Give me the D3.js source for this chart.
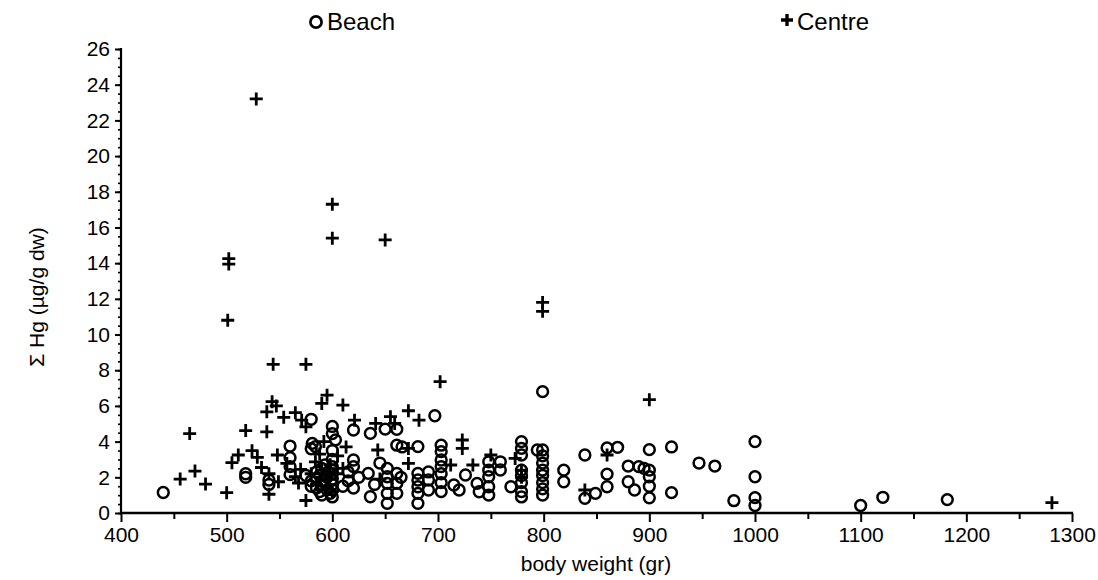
<!DOCTYPE html>
<html>
<head>
<meta charset="utf-8">
<script src="https://cdn.jsdelivr.net/npm/d3@7"></script>
<style>
  body { margin: 0; background: #fff; }
  text { font-family: "Liberation Sans", Arial, sans-serif; fill: #000; }
</style>
</head>
<body>
<svg id="chart" width="1098" height="580"></svg>
<script>

// body weight (gr), sum Hg (ug/g dw)
var beach = [
  [440,1.15],[518,2.0],[518,2.2],[540,1.85],[540,1.6],
  [560,3.75],[560,3.1],[560,2.6],[560,2.15],[580,5.25],
  [581,3.9],[584,3.72],[580,3.6],[575,2.1],[580,1.8],[580,1.5],[585,2.3],[585,1.9],
  [590,1.6],[590,2.5],[595,1.3],[595,2.0],[590,1.0],
  [585,1.4],[588,2.1],[592,1.8],[596,2.3],[598,1.1],[593,2.7],[588,1.2],
  [600,4.85],[600,4.45],[603,4.1],[600,3.5],[600,3.0],[600,2.6],[600,2.2],[600,1.9],
  [600,1.6],[600,1.3],[600,0.9],[600,2.4],
  [610,1.5],[615,2.3],[615,1.8],[620,4.65],[620,2.97],[620,2.6],[620,1.4],[625,2.0],
  [636,4.46],[634,2.22],[636,0.91],[640,1.6],[645,2.8],
  [652,2.5],[652,2.03],[652,1.66],[652,1.1],[652,0.54],[650,4.7],
  [661,4.69],[661,3.8],[666,3.7],[661,2.22],[661,1.66],[661,1.1],[665,2.0],
  [681,3.72],[681,2.22],[681,1.85],[681,1.47],[681,1.1],[681,0.54],
  [691,2.3],[691,1.85],[691,1.29],[697,5.45],
  [703,3.8],[703,3.44],[703,2.97],[703,2.6],[703,2.2],[703,1.7],[703,1.2],
  [715,1.57],[720,1.29],[726,2.13],[737,1.66],[739,1.19],
  [748,2.87],[748,2.4],[748,2.03],[748,1.47],[748,1.0],
  [759,2.87],[759,2.41],[769,1.47],
  [779,4.0],[779,3.62],[779,3.25],[779,2.4],[779,2.1],[779,1.7],[779,1.2],[779,0.9],
  [794,3.53],[799,6.8],[799,3.53],[799,3.2],[799,2.8],[799,2.4],[799,2.1],[799,1.7],
  [799,1.35],[799,1.0],
  [819,2.4],[819,1.75],[839,3.25],[839,0.82],[849,1.1],
  [860,3.65],[860,2.18],[860,1.47],[870,3.68],
  [880,2.63],[880,1.75],[886,1.29],[890,2.6],[895,2.5],
  [900,3.55],[900,2.4],[900,2.03],[900,1.5],[900,0.85],
  [921,3.7],[921,1.14],[947,2.8],[962,2.63],[980,0.69],
  [1000,4.0],[1000,2.03],[1000,0.86],[1000,0.42],
  [1100,0.42],[1121,0.88],[1182,0.75]
];

var centre = [
  [456,1.9],[465,4.45],[470,2.35],[480,1.62],[500,1.14],
  [501,10.8],[502,14.25],[502,13.95],
  [505,2.82],[511,3.25],[518,4.62],[524,3.49],[529,3.12],[533,2.55],[528,23.2],
  [538,4.55],[538,5.67],[540,1.05],[540,2.2],[543,6.24],[547,6.0],[544,8.33],
  [548,3.25],[549,1.75],[554,5.36],[557,2.78],[565,5.62],[565,2.03],[570,2.45],
  [568,1.68],[571,5.2],[575,4.83],[575,0.7],[575,8.33],
  [580,2.2],[585,1.6],[590,2.4],[597,1.9],[600,1.2],[603,2.2],
  [584,2.87],[588,3.3],[590,6.14],[595,6.6],[592,4.0],[595,1.5],[598,2.7],
  [600,17.3],[600,15.4],[610,6.05],[613,3.7],[610,2.5],[605,3.2],
  [621,5.2],[641,5.02],[643,3.53],[645,1.9],
  [650,15.3],[655,5.4],[659,5.02],
  [672,5.73],[672,3.62],[672,2.78],[682,5.2],[702,7.36],
  [712,2.69],[723,4.09],[723,3.62],[733,2.69],[750,3.25],[773,3.06],[779,2.4],[779,2.0],
  [799,11.8],[799,11.3],
  [839,1.29],[860,3.25],[900,6.35],[1281,0.58]
];

var x_ticks = [400,500,600,700,800,900,1000,1100,1200,1300];
var y_ticks = [0,2,4,6,8,10,12,14,16,18,20,22,24,26];

var svg = d3.select("#chart");

var x = d3.scaleLinear().domain([400, 1300]).range([121, 1072]);
var y = d3.scaleLinear().domain([0, 26]).range([513, 49]);

// x axis: major ticks every 100, minor every 50, pointing down
var xminor = svg.append("g").attr("transform", "translate(0," + y(0) + ")")
  .call(d3.axisBottom(x).tickValues(d3.range(450, 1300, 100)).tickSize(6).tickFormat(""));
xminor.select(".domain").remove();
xminor.selectAll("line").attr("stroke-width", 2);

var xmajor = svg.append("g").attr("transform", "translate(0," + y(0) + ")")
  .call(d3.axisBottom(x).tickValues(x_ticks).tickSize(9).tickPadding(5).tickFormat(d3.format("d")));
xmajor.select(".domain").remove();
xmajor.selectAll("line").attr("stroke-width", 2);
xmajor.selectAll("text").style("font-size", "21px");

svg.append("line")
  .attr("x1", x(400) - 1).attr("x2", x(1300) + 1)
  .attr("y1", y(0)).attr("y2", y(0))
  .attr("stroke", "#000").attr("stroke-width", 2.6);

// y axis: major every 2, minor every 0.5
var yminor = svg.append("g").attr("transform", "translate(" + x(400) + ",0)")
  .call(d3.axisLeft(y).tickValues(d3.range(0, 26.01, 0.5)).tickSize(3).tickFormat(""));
yminor.select(".domain").remove();
yminor.selectAll("line").attr("stroke-width", 1.6);

var ymajor = svg.append("g").attr("transform", "translate(" + x(400) + ",0)")
  .call(d3.axisLeft(y).tickValues(y_ticks).tickSize(6).tickPadding(5));
ymajor.select(".domain").remove();
ymajor.selectAll("line").attr("stroke-width", 2);
ymajor.selectAll("text").style("font-size", "21px");

svg.append("line")
  .attr("x1", x(400)).attr("x2", x(400))
  .attr("y1", y(26) - 1).attr("y2", y(0) + 1)
  .attr("stroke", "#000").attr("stroke-width", 2.2);

// axis titles
svg.append("text")
  .attr("x", 596).attr("y", 571)
  .attr("text-anchor", "middle")
  .style("font-size", "21px")
  .text("body weight (gr)");

svg.append("text")
  .attr("transform", "translate(44,297) rotate(-90)")
  .attr("text-anchor", "middle")
  .style("font-size", "21px")
  .text("\u03A3 Hg  (\u00B5g/g dw)");

// marks
var plus = function(d) {
  var cx = x(d[0]), cy = y(d[1]), a = 6.5;
  return "M" + (cx - a) + "," + cy + "H" + (cx + a) + "M" + cx + "," + (cy - a) + "V" + (cy + a);
};

svg.append("g").selectAll("circle")
  .data(beach)
  .enter().append("circle")
  .attr("cx", function(d) { return x(d[0]); })
  .attr("cy", function(d) { return y(d[1]); })
  .attr("r", 5.4)
  .attr("fill", "none")
  .attr("stroke", "#000")
  .attr("stroke-width", 2.5);

svg.append("g").selectAll("path")
  .data(centre)
  .enter().append("path")
  .attr("d", plus)
  .attr("fill", "none")
  .attr("stroke", "#000")
  .attr("stroke-width", 2.8);

// legend
svg.append("circle")
  .attr("cx", 316).attr("cy", 22).attr("r", 5.6)
  .attr("fill", "none").attr("stroke", "#000").attr("stroke-width", 2.7);
svg.append("text")
  .attr("x", 327).attr("y", 30)
  .style("font-size", "24px")
  .text("Beach");

svg.append("path")
  .attr("d", "M781,20H793M787,14V26")
  .attr("stroke", "#000").attr("stroke-width", 3.4);
svg.append("text")
  .attr("x", 797).attr("y", 30)
  .style("font-size", "24px")
  .text("Centre");

</script>
</body>
</html>
